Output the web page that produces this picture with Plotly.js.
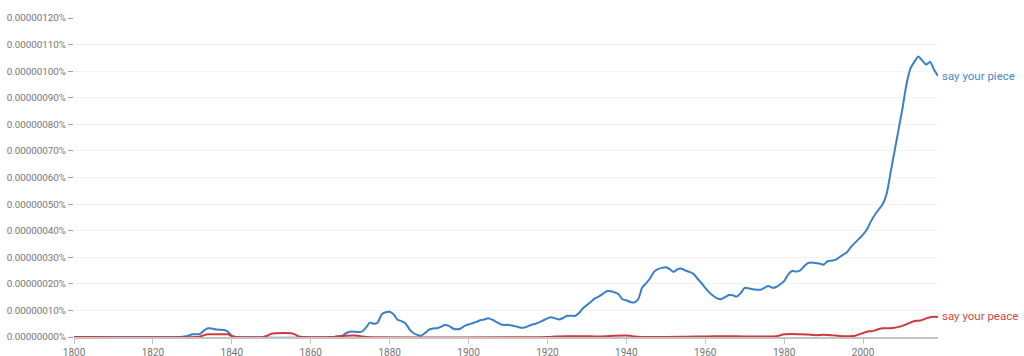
<!DOCTYPE html>
<html>
<head>
<meta charset="utf-8">
<script src="https://cdn.plot.ly/plotly-3.0.1.min.js"></script>
<style>html,body{margin:0;padding:0;background:#fff;}#chart{width:1024px;height:356px;}</style>
</head>
<body>
<div id="chart"></div>
<script>
const seriesNames = ["say your piece", "say your peace"];

const pieceYears = [1800,1827,1828,1829,1830,1831,1832,1833,1834,1835,1836,1837,1838,1839,1840,1841,
  1866,1867,1868,1869,1870,1871,1872,1873,1874,1875,1876,1877,1878,1879,1880,1881,1882,1883,1884,1885,1886,1887,1888,1889,
  1890,1891,1892,1893,1894,1895,1896,1897,1898,1899,1900,1901,1902,1903,1904,1905,1906,1907,1908,1909,
  1910,1911,1912,1913,1914,1915,1916,1917,1918,1919,1920,1921,1922,1923,1924,1925,1926,1927,1928,1929,
  1930,1931,1932,1933,1934,1935,1936,1937,1938,1939,1940,1941,1942,1943,1944,1945,1946,1947,1948,1949,
  1950,1951,1952,1953,1954,1955,1956,1957,1958,1959,1960,1961,1962,1963,1964,1965,1966,1967,1968,1969,
  1970,1971,1972,1973,1974,1975,1976,1977,1978,1979,1980,1981,1982,1983,1984,1985,1986,1987,1988,1989,
  1990,1991,1992,1993,1994,1995,1996,1997,1998,1999,2000,2001,2002,2003,2004,2005,2006,2007,2008,2009,
  2010,2011,2012,2013,2014,2015,2016,2017,2018,2019];
const pieceValues = [0,0,0.02e-7,0.05e-7,0.1e-7,0.1e-7,0.12e-7,0.25e-7,0.33e-7,0.32e-7,0.28e-7,0.27e-7,0.26e-7,0.2e-7,0.05e-7,0,
  0,0.03e-7,0.05e-7,0.15e-7,0.2e-7,0.2e-7,0.19e-7,0.2e-7,0.35e-7,0.54e-7,0.5e-7,0.55e-7,0.85e-7,0.93e-7,0.95e-7,0.85e-7,0.65e-7,0.6e-7,0.52e-7,0.3e-7,0.15e-7,0.08e-7,0.05e-7,0.15e-7,
  0.28e-7,0.32e-7,0.33e-7,0.38e-7,0.45e-7,0.42e-7,0.32e-7,0.29e-7,0.32e-7,0.42e-7,0.47e-7,0.52e-7,0.57e-7,0.63e-7,0.66e-7,0.71e-7,0.65e-7,0.57e-7,0.49e-7,0.45e-7,
  0.46e-7,0.43e-7,0.4e-7,0.36e-7,0.35e-7,0.4e-7,0.46e-7,0.5e-7,0.56e-7,0.63e-7,0.7e-7,0.74e-7,0.7e-7,0.66e-7,0.72e-7,0.8e-7,0.8e-7,0.79e-7,0.9e-7,1.08e-7,
  1.2e-7,1.32e-7,1.45e-7,1.52e-7,1.62e-7,1.72e-7,1.72e-7,1.68e-7,1.62e-7,1.42e-7,1.38e-7,1.32e-7,1.3e-7,1.42e-7,1.85e-7,2.02e-7,2.2e-7,2.45e-7,2.55e-7,2.6e-7,
  2.62e-7,2.55e-7,2.45e-7,2.55e-7,2.57e-7,2.5e-7,2.45e-7,2.38e-7,2.2e-7,2.04e-7,1.85e-7,1.68e-7,1.55e-7,1.45e-7,1.42e-7,1.5e-7,1.58e-7,1.57e-7,1.52e-7,1.65e-7,
  1.85e-7,1.83e-7,1.8e-7,1.78e-7,1.78e-7,1.85e-7,1.92e-7,1.85e-7,1.88e-7,1.98e-7,2.1e-7,2.35e-7,2.48e-7,2.46e-7,2.5e-7,2.65e-7,2.78e-7,2.8e-7,2.78e-7,2.76e-7,
  2.72e-7,2.85e-7,2.87e-7,2.9e-7,3.0e-7,3.1e-7,3.2e-7,3.4e-7,3.55e-7,3.7e-7,3.85e-7,4.05e-7,4.35e-7,4.6e-7,4.8e-7,5.0e-7,5.4e-7,6.2e-7,7.0e-7,7.8e-7,
  8.6e-7,9.5e-7,10.1e-7,10.35e-7,10.55e-7,10.4e-7,10.25e-7,10.35e-7,10.05e-7,9.82e-7];

const peaceYears = [1800,1831,1832,1833,1834,1836,1839,1840,1841,1848,1849,1850,1851,1855,1856,1857,1858,
  1866,1867,1868,1869,1872,1873,1874,1920,1922,1925,1930,1932,1935,1937,1941,1942,1944,1955,1960,1965,1970,1975,1978,
  1980,1982,1984,1986,1988,1990,1992,1994,1996,1998,2000,2001,2002,2003,2004,2005,2006,2007,2008,2009,
  2010,2011,2012,2013,2014,2015,2016,2017,2018,2019];
const peaceValues = [0,0,0.02e-7,0.07e-7,0.1e-7,0.1e-7,0.1e-7,0.03e-7,0,0,0.05e-7,0.12e-7,0.14e-7,0.14e-7,0.1e-7,0.02e-7,0,
  0,0.02e-7,0.04e-7,0.05e-7,0.05e-7,0.02e-7,0,0,0.02e-7,0.03e-7,0.03e-7,0.02e-7,0.03e-7,0.05e-7,0.05e-7,0.02e-7,0,0.01e-7,0.02e-7,0.03e-7,0.02e-7,0.02e-7,0.03e-7,
  0.1e-7,0.11e-7,0.1e-7,0.09e-7,0.07e-7,0.08e-7,0.07e-7,0.04e-7,0.03e-7,0.05e-7,0.15e-7,0.2e-7,0.22e-7,0.25e-7,0.3e-7,0.33e-7,0.33e-7,0.33e-7,0.35e-7,0.38e-7,
  0.42e-7,0.48e-7,0.54e-7,0.6e-7,0.61e-7,0.64e-7,0.7e-7,0.74e-7,0.76e-7,0.75e-7];

const xTicks = [1800,1820,1840,1860,1880,1900,1920,1940,1960,1980,2000];
const colors = ["#3b7fc9", "#cc3a3f"];
const labelColors = ["#4a87c9", "#c9484d"];

const traces = [
  {x: pieceYears, y: pieceValues, name: seriesNames[0], type: "scatter", mode: "lines",
   line: {color: colors[0], width: 2, shape: "spline", smoothing: 0.6}},
  {x: peaceYears, y: peaceValues, name: seriesNames[1], type: "scatter", mode: "lines",
   line: {color: colors[1], width: 2, shape: "spline", smoothing: 0.6}}
];

const layout = {
  width: 1024, height: 356,
  margin: {l: 74, r: 86, t: 18, b: 19},
  paper_bgcolor: "#fff", plot_bgcolor: "#fff",
  showlegend: false,
  font: {family: "Roboto, Arial, sans-serif", color: "#757575", size: 10},
  xaxis: {
    range: [1800, 2019], tickvals: xTicks, ticktext: xTicks.map(String),
    showgrid: false, zeroline: false,
    showline: true, linecolor: "#c4c4c4", linewidth: 1.5,
    ticks: "outside", ticklen: 5, tickcolor: "#c4c4c4", tickwidth: 1,
    tickfont: {size: 10, color: "#757575"}, fixedrange: true
  },
  yaxis: {
    range: [0, 1.2e-6], dtick: 1e-7, tick0: 0,
    tickformat: ".8f", ticksuffix: "%",
    showgrid: true, gridcolor: "#f3f3f3", gridwidth: 1,
    zeroline: false, showline: false,
    ticks: "outside", ticklen: 5, tickcolor: "#a0a0a0", tickwidth: 1,
    tickfont: {size: 9.8, color: "#757575"}, fixedrange: true
  },
  annotations: [
    {x: pieceYears[pieceYears.length-1], y: pieceValues[pieceValues.length-1], xref: "x", yref: "y",
     text: seriesNames[0], showarrow: false, xanchor: "left", yanchor: "middle", xshift: 2,
     font: {size: 11.5, color: labelColors[0], family: "Roboto, Arial, sans-serif"}},
    {x: peaceYears[peaceYears.length-1], y: peaceValues[peaceValues.length-1], xref: "x", yref: "y",
     text: seriesNames[1], showarrow: false, xanchor: "left", yanchor: "middle", xshift: 2, yshift: 1,
     font: {size: 11.5, color: labelColors[1], family: "Roboto, Arial, sans-serif"}}
  ]
};

Plotly.newPlot("chart", traces, layout, {displayModeBar: false, staticPlot: true});
</script>
</body>
</html>
